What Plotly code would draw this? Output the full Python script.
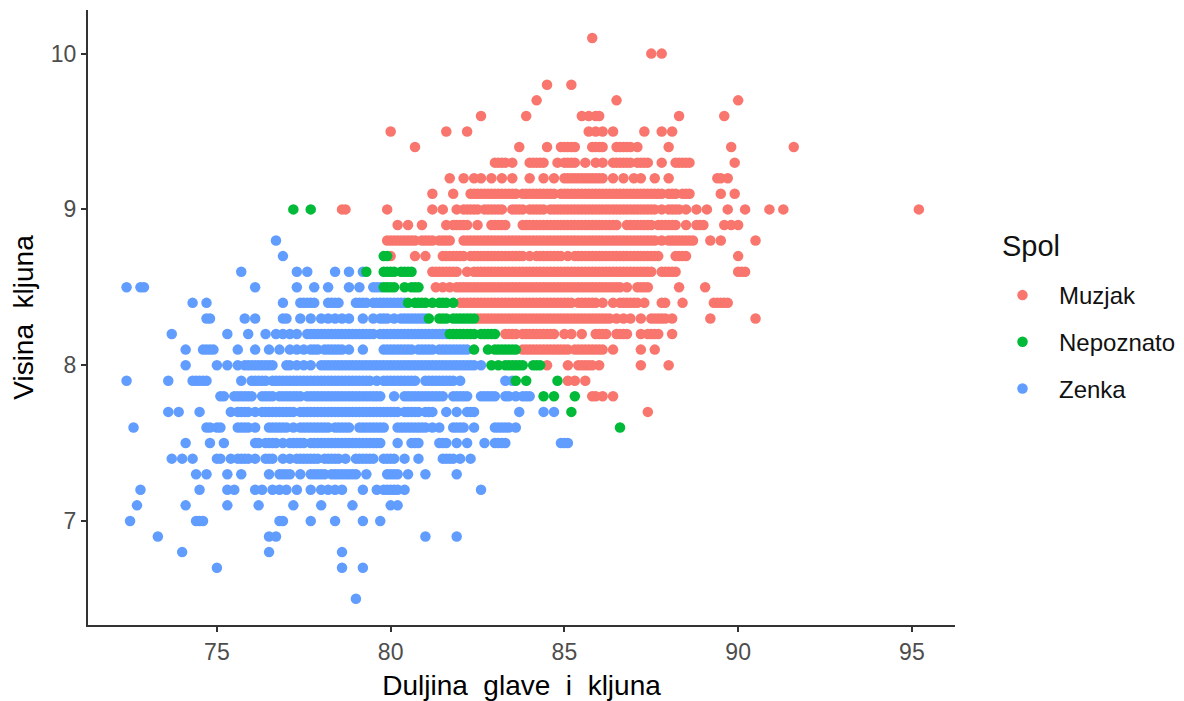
import plotly.graph_objects as go

title_x = "Duljina\u00a0 glave\u00a0 i\u00a0 kljuna"
title_y = "Visina\u00a0 kljuna"
legend_title = "Spol"
x_ticks = [75, 80, 85, 90, 95]
y_ticks = [7, 8, 9, 10]

muzjak_heights = [10.1, 10.0, 9.8, 9.7, 9.6, 9.5, 9.4, 9.3, 9.2, 9.1, 9.0, 8.9, 8.8, 8.7, 8.6, 8.5, 8.4, 8.3, 8.2, 8.1, 8.0, 7.9, 7.8, 7.7]
muzjak_rows = [
    [85.8],
    [87.5, 87.8],
    [84.5, 85.2],
    [84.2, 86.5, 90.0],
    [82.6, 83.9, 85.5, 85.7, 85.9, 86.0, 88.3, 89.6],
    [80.0, 81.6, 82.2, 85.7, 85.9, 86.1, 86.4, 87.3, 87.8, 88.1],
    [80.7, 83.7, 84.5, 84.9, 85.0, 85.1, 85.2, 85.3, 85.8, 85.9, 86.0, 86.1, 86.5, 86.6, 86.7, 86.8, 86.9, 87.1, 88.0, 89.8, 91.6],
    [83.0, 83.1, 83.2, 83.3, 83.5, 84.0, 84.1, 84.2, 84.3, 84.4, 84.8, 85.0, 85.1, 85.2, 85.3, 85.6, 85.9, 86.1, 86.4, 86.5, 86.6, 86.7, 86.8, 86.9, 87.1, 87.2, 87.3, 87.4, 87.8, 88.2, 88.3, 88.4, 88.5, 88.6, 89.9],
    [81.7, 82.1, 82.4, 82.6, 82.9, 83.2, 83.5, 84.0, 84.4, 84.7, 85.0, 85.1, 85.2, 85.3, 85.4, 85.5, 85.6, 85.7, 85.8, 85.9, 86.0, 86.1, 86.4, 86.7, 87.0, 87.2, 87.6, 88.0, 89.4, 89.5, 89.7],
    [81.2, 81.8, 82.3, 82.4, 82.5, 82.6, 82.7, 82.8, 82.9, 83.0, 83.1, 83.2, 83.3, 83.4, 83.5, 83.6, 83.8, 83.9, 84.0, 84.1, 84.2, 84.3, 84.4, 84.5, 84.6, 84.7, 84.9, 85.0, 85.1, 85.2, 85.3, 85.4, 85.5, 85.6, 85.7, 85.8, 85.9, 86.0, 86.1, 86.2, 86.3, 86.4, 86.5, 86.6, 86.7, 86.8, 86.9, 87.0, 87.1, 87.2, 87.3, 87.4, 87.5, 87.6, 87.7, 87.8, 88.0, 88.1, 88.2, 88.4, 88.5, 88.6, 89.5, 89.9],
    [78.6, 78.7, 79.9, 81.2, 81.5, 81.9, 82.1, 82.2, 82.3, 82.4, 82.5, 82.7, 82.8, 82.9, 83.0, 83.1, 83.2, 83.5, 83.6, 83.7, 83.8, 84.0, 84.1, 84.2, 84.3, 84.4, 84.6, 84.7, 84.8, 84.9, 85.0, 85.1, 85.2, 85.3, 85.4, 85.5, 85.6, 85.7, 85.8, 85.9, 86.0, 86.1, 86.2, 86.3, 86.4, 86.5, 86.6, 86.7, 86.8, 86.9, 87.0, 87.1, 87.2, 87.3, 87.4, 87.5, 87.6, 87.8, 88.0, 88.1, 88.2, 88.3, 88.5, 88.8, 89.1, 89.7, 90.2, 90.9, 91.3, 95.2],
    [80.2, 80.5, 80.9, 81.6, 81.8, 81.9, 82.0, 82.1, 82.2, 82.5, 82.9, 83.0, 83.1, 83.2, 83.3, 83.8, 83.9, 84.0, 84.1, 84.2, 84.3, 84.4, 84.5, 84.6, 84.7, 84.8, 84.9, 85.0, 85.1, 85.2, 85.3, 85.4, 85.5, 85.6, 85.7, 85.8, 85.9, 86.0, 86.1, 86.2, 86.3, 86.4, 86.5, 86.8, 86.9, 87.0, 87.1, 87.2, 87.3, 87.4, 87.5, 87.7, 87.8, 87.9, 88.0, 88.1, 88.2, 88.5, 88.8, 88.9, 89.0, 89.6, 89.8, 90.0],
    [79.9, 80.0, 80.1, 80.2, 80.3, 80.4, 80.5, 80.6, 80.7, 80.9, 81.0, 81.1, 81.2, 81.4, 81.5, 81.6, 81.7, 82.1, 82.2, 82.3, 82.4, 82.5, 82.6, 82.7, 82.8, 82.9, 83.0, 83.1, 83.2, 83.3, 83.4, 83.5, 83.6, 83.7, 83.8, 83.9, 84.0, 84.1, 84.2, 84.3, 84.4, 84.5, 84.6, 84.7, 84.8, 84.9, 85.0, 85.1, 85.2, 85.3, 85.4, 85.5, 85.6, 85.7, 85.8, 85.9, 86.0, 86.1, 86.2, 86.3, 86.4, 86.5, 86.6, 86.7, 86.8, 86.9, 87.0, 87.1, 87.2, 87.3, 87.4, 87.5, 87.6, 87.8, 88.0, 88.1, 88.2, 88.3, 88.4, 88.5, 88.6, 88.7, 89.2, 89.5, 90.5],
    [80.0, 80.7, 81.0, 81.5, 81.6, 81.7, 81.8, 81.9, 82.0, 82.1, 82.3, 82.4, 82.5, 82.6, 82.7, 82.8, 82.9, 83.0, 83.1, 83.2, 83.3, 83.4, 83.5, 83.6, 83.7, 83.8, 84.0, 84.2, 84.3, 84.4, 84.5, 84.6, 84.7, 84.8, 84.9, 85.1, 85.3, 85.4, 85.5, 85.6, 85.7, 85.8, 85.9, 86.0, 86.1, 86.2, 86.3, 86.4, 86.5, 86.6, 86.7, 86.8, 86.9, 87.0, 87.1, 87.2, 87.3, 87.4, 87.5, 87.6, 87.7, 88.2, 88.3, 88.4, 88.5, 90.0],
    [81.2, 81.3, 81.4, 81.5, 81.6, 81.7, 81.8, 81.9, 82.2, 82.4, 82.5, 82.6, 82.7, 82.8, 82.9, 83.0, 83.1, 83.2, 83.3, 83.4, 83.5, 83.6, 83.7, 83.8, 83.9, 84.0, 84.1, 84.2, 84.3, 84.4, 84.5, 84.6, 84.7, 84.8, 84.9, 85.0, 85.1, 85.2, 85.3, 85.4, 85.5, 85.6, 85.7, 85.8, 85.9, 86.0, 86.1, 86.2, 86.3, 86.4, 86.5, 86.6, 86.7, 86.8, 86.9, 87.0, 87.1, 87.2, 87.3, 87.4, 87.5, 87.8, 87.9, 88.0, 88.1, 88.2, 90.0, 90.1, 90.2],
    [81.3, 81.5, 81.7, 81.9, 82.0, 82.1, 82.2, 82.3, 82.4, 82.5, 82.6, 82.7, 82.8, 82.9, 83.0, 83.1, 83.2, 83.3, 83.4, 83.5, 83.6, 83.7, 83.8, 83.9, 84.0, 84.1, 84.2, 84.3, 84.4, 84.5, 84.6, 84.7, 84.8, 84.9, 85.0, 85.1, 85.2, 85.3, 85.4, 85.5, 85.6, 85.7, 85.8, 85.9, 86.0, 86.1, 86.2, 86.3, 86.4, 86.5, 86.6, 86.8, 87.1, 87.2, 87.3, 87.4, 88.3, 89.05],
    [82.0, 82.1, 82.2, 82.3, 82.4, 82.5, 82.6, 82.7, 82.8, 82.9, 83.0, 83.1, 83.2, 83.3, 83.4, 83.5, 83.6, 83.7, 83.8, 83.9, 84.0, 84.1, 84.2, 84.3, 84.4, 84.5, 84.6, 84.7, 84.8, 84.9, 85.0, 85.1, 85.2, 85.4, 85.5, 85.6, 85.7, 85.8, 85.9, 86.1, 86.4, 86.6, 86.7, 86.8, 86.9, 87.0, 87.1, 87.3, 87.8, 87.9, 88.4, 89.3, 89.4, 89.5, 89.6, 89.7],
    [82.5, 82.6, 82.7, 82.8, 82.9, 83.0, 83.1, 83.2, 83.3, 83.4, 83.5, 83.6, 83.7, 83.8, 83.9, 84.0, 84.1, 84.2, 84.3, 84.4, 84.5, 84.6, 84.7, 84.8, 84.9, 85.0, 85.1, 85.2, 85.3, 85.4, 85.5, 85.6, 85.7, 85.8, 85.9, 86.0, 86.1, 86.2, 86.3, 86.5, 86.7, 86.9, 87.2, 87.5, 87.6, 87.7, 87.8, 87.9, 88.1, 89.2, 90.5],
    [83.3, 83.4, 83.5, 83.6, 83.8, 83.9, 84.0, 84.1, 84.2, 84.3, 84.4, 84.5, 84.6, 84.7, 85.0, 85.2, 85.5, 85.9, 86.0, 86.1, 86.2, 86.5, 86.6, 86.7, 86.8, 87.2, 87.4, 87.5, 87.6, 87.7, 88.1],
    [83.8, 83.9, 84.0, 84.1, 84.2, 84.3, 84.4, 84.5, 84.6, 84.7, 84.8, 84.9, 85.0, 85.1, 85.3, 85.4, 85.5, 85.6, 85.7, 85.8, 85.9, 86.0, 86.1, 86.4, 87.2, 87.6],
    [84.5, 85.1, 85.4, 85.5, 85.6, 85.7, 85.8, 86.0, 87.2, 88.0],
    [85.1, 85.3, 85.6],
    [85.8, 85.9, 86.1, 86.4],
    [87.4],
]

nepoznato_heights = [9.0, 8.7, 8.6, 8.5, 8.4, 8.3, 8.2, 8.1, 8.0, 7.9, 7.8, 7.7, 7.6]
nepoznato_rows = [
    [77.2, 77.7],
    [79.8, 79.9],
    [79.3, 79.8, 79.9, 80.0, 80.1, 80.3, 80.4, 80.5, 80.6],
    [79.8, 79.9, 80.0, 80.1, 80.4, 80.6, 80.7, 80.8],
    [80.5, 80.7, 80.8, 80.9, 81.0, 81.2, 81.4, 81.5, 81.6, 81.8],
    [81.1, 81.4, 81.5, 81.6, 81.8, 81.9, 82.0, 82.1, 82.2, 82.3, 82.4],
    [81.7, 81.8, 81.9, 82.0, 82.1, 82.2, 82.3, 82.4, 82.6, 82.7, 82.8, 82.9, 83.0],
    [82.4, 82.8, 83.0, 83.1, 83.2, 83.3, 83.4, 83.5, 83.6],
    [82.9, 83.1, 83.3, 83.4, 83.5, 83.6, 83.7, 83.8, 84.1, 84.2, 84.3],
    [83.6, 83.9, 84.8],
    [84.4, 84.7, 85.3],
    [85.2],
    [86.6],
]

zenka_heights = [8.8, 8.7, 8.6, 8.5, 8.4, 8.3, 8.2, 8.1, 8.0, 7.9, 7.8, 7.7, 7.6, 7.5, 7.4, 7.3, 7.2, 7.1, 7.0, 6.9, 6.8, 6.7, 6.5]
zenka_rows = [
    [76.7],
    [76.9],
    [75.7, 77.3, 77.6, 78.4, 78.8, 79.2],
    [72.4, 72.8, 72.9, 76.1, 77.3, 77.8, 78.2, 78.8, 79.1, 79.5, 79.6, 79.7],
    [74.3, 74.7, 76.9, 77.4, 77.5, 77.6, 77.7, 77.8, 78.2, 78.3, 78.4, 78.5, 79.0, 79.1, 79.2, 79.3, 79.5, 79.6, 79.7, 79.8, 79.9, 80.0, 80.1, 80.2, 80.3, 80.4],
    [74.7, 74.8, 75.8, 76.1, 76.9, 77.0, 77.4, 77.7, 78.0, 78.2, 78.4, 78.6, 78.8, 79.2, 79.5, 79.7, 79.8, 79.9, 80.1, 80.3, 80.4, 80.5, 80.6, 80.7, 80.8, 80.9, 81.0],
    [73.7, 75.3, 75.9, 76.4, 76.7, 76.9, 77.1, 77.3, 77.6, 77.7, 77.8, 77.9, 78.0, 78.1, 78.2, 78.3, 78.4, 78.5, 78.6, 78.7, 78.8, 78.9, 79.0, 79.1, 79.2, 79.3, 79.4, 79.5, 79.7, 79.8, 79.9, 80.0, 80.1, 80.2, 80.3, 80.4, 80.5, 80.6, 80.7, 80.8, 80.9, 81.0, 81.1, 81.2, 81.3, 81.4, 81.5, 81.6],
    [74.1, 74.6, 74.7, 74.8, 74.9, 75.6, 76.1, 76.5, 76.8, 77.1, 77.3, 77.5, 77.7, 77.8, 77.9, 78.1, 78.2, 78.3, 78.4, 78.5, 78.6, 78.8, 79.2, 79.8, 79.9, 80.0, 80.1, 80.2, 80.3, 80.4, 80.5, 80.6, 80.8, 80.9, 81.0, 81.1, 81.2, 81.4, 81.5, 81.6, 81.7, 81.8, 81.9, 82.0, 82.1, 82.2],
    [74.1, 75.0, 75.3, 75.6, 75.8, 75.9, 76.0, 76.1, 76.2, 76.3, 76.4, 76.5, 76.6, 77.0, 77.1, 77.3, 77.5, 77.7, 78.0, 78.1, 78.2, 78.3, 78.4, 78.5, 78.6, 78.7, 78.8, 78.9, 79.0, 79.1, 79.2, 79.3, 79.4, 79.5, 79.6, 79.7, 79.8, 79.9, 80.0, 80.1, 80.2, 80.3, 80.4, 80.5, 80.6, 80.7, 80.8, 80.9, 81.0, 81.1, 81.2, 81.3, 81.4, 81.5, 81.6, 81.7, 81.8, 81.9, 82.0, 82.1, 82.2, 82.3, 82.4, 82.6],
    [72.4, 73.6, 74.3, 74.4, 74.5, 74.6, 74.7, 75.7, 76.0, 76.1, 76.2, 76.3, 76.4, 76.6, 76.7, 76.8, 76.9, 77.0, 77.1, 77.2, 77.3, 77.4, 77.5, 77.6, 77.7, 77.8, 77.9, 78.0, 78.1, 78.2, 78.3, 78.4, 78.5, 78.6, 78.7, 78.8, 78.9, 79.0, 79.1, 79.2, 79.3, 79.4, 79.6, 79.8, 79.9, 80.0, 80.1, 80.2, 80.3, 80.4, 80.5, 80.6, 80.7, 81.0, 81.1, 81.2, 81.3, 81.4, 81.5, 81.6, 81.7, 81.8, 82.0, 83.3, 83.5],
    [75.1, 75.2, 75.5, 75.6, 75.7, 75.8, 75.9, 76.0, 76.3, 76.4, 76.5, 76.6, 76.8, 76.9, 77.0, 77.1, 77.2, 77.3, 77.4, 77.6, 77.7, 77.8, 77.9, 78.0, 78.1, 78.2, 78.3, 78.4, 78.5, 78.6, 78.7, 78.8, 78.9, 79.0, 79.1, 79.2, 79.3, 79.4, 79.5, 79.6, 79.7, 80.1, 80.4, 80.5, 80.6, 80.7, 80.8, 80.9, 81.0, 81.1, 81.2, 81.3, 81.4, 81.5, 81.8, 81.9, 82.0, 82.1, 82.2, 82.6, 82.7, 82.8, 82.9, 83.0, 83.3, 83.4, 83.6, 83.8, 83.9, 84.0],
    [73.6, 73.9, 74.5, 75.4, 75.6, 75.7, 75.8, 75.9, 76.1, 76.3, 76.4, 76.5, 76.6, 76.7, 76.8, 76.9, 77.0, 77.1, 77.2, 77.4, 77.5, 77.6, 77.7, 77.8, 77.9, 78.0, 78.1, 78.2, 78.3, 78.4, 78.5, 78.6, 78.7, 78.8, 78.9, 79.0, 79.1, 79.2, 79.3, 79.4, 79.5, 79.6, 79.7, 79.8, 79.9, 80.0, 80.1, 80.2, 80.4, 80.5, 80.6, 80.7, 80.8, 81.0, 81.1, 81.2, 81.6, 81.9, 82.2, 82.3, 82.4, 83.7, 84.4, 84.7],
    [72.6, 74.7, 74.8, 75.0, 75.1, 75.6, 75.7, 75.8, 75.9, 76.1, 76.5, 76.6, 76.7, 76.8, 76.9, 77.0, 77.2, 77.4, 77.5, 77.6, 77.7, 77.8, 77.9, 78.0, 78.1, 78.2, 78.4, 78.5, 78.6, 78.7, 78.8, 79.1, 79.2, 79.3, 79.4, 79.5, 79.6, 79.7, 79.8, 80.2, 80.3, 80.4, 80.5, 80.6, 80.7, 80.8, 80.9, 81.0, 81.2, 81.4, 81.8, 81.9, 82.0, 82.1, 82.4, 83.0, 83.1, 83.2, 83.3, 83.4, 83.6],
    [74.1, 74.8, 75.2, 76.1, 76.2, 76.4, 76.5, 76.6, 76.7, 76.9, 77.1, 77.2, 77.3, 77.4, 77.5, 77.7, 77.8, 77.9, 78.0, 78.1, 78.2, 78.3, 78.4, 78.5, 78.6, 78.7, 78.8, 78.9, 79.0, 79.1, 79.2, 79.3, 79.4, 79.5, 79.6, 79.7, 80.2, 80.6, 80.7, 80.8, 81.4, 81.5, 81.6, 81.9, 82.2, 82.7, 83.0, 83.1, 83.2, 83.3, 84.9, 85.0, 85.1],
    [73.7, 74.0, 74.3, 75.0, 75.1, 75.4, 75.6, 75.7, 75.8, 75.9, 76.1, 76.4, 76.5, 76.6, 76.9, 77.1, 77.3, 77.4, 77.5, 77.6, 77.7, 77.8, 77.9, 78.1, 78.2, 78.3, 78.4, 78.5, 78.7, 79.0, 79.1, 79.2, 79.3, 79.4, 79.5, 79.8, 79.9, 80.0, 80.1, 80.4, 80.8, 81.5, 81.6, 81.7, 81.8, 82.0, 82.3],
    [74.4, 74.7, 75.3, 75.7, 76.5, 76.8, 76.9, 77.0, 77.1, 77.4, 77.7, 77.8, 77.9, 78.0, 78.1, 78.3, 78.4, 78.5, 78.6, 78.7, 78.8, 78.9, 79.0, 79.3, 79.9, 80.0, 80.1, 80.2, 80.5, 81.0, 81.9],
    [72.8, 74.5, 75.3, 75.5, 76.1, 76.3, 76.6, 76.8, 77.0, 77.3, 77.7, 78.0, 78.2, 78.4, 78.6, 79.2, 79.6, 79.8, 79.9, 80.0, 80.1, 80.2, 80.4, 82.6],
    [72.7, 74.1, 75.3, 76.2, 77.2, 78.0, 78.9, 80.0, 80.2],
    [72.5, 74.4, 74.5, 74.6, 76.8, 76.9, 77.7, 78.4, 79.2, 79.7],
    [73.3, 76.5, 76.7, 81.0, 81.9],
    [74.0, 76.5, 78.6],
    [75.0, 78.6, 79.2],
    [79.0],
]


def flatten(heights, rows):
    xs, ys = [], []
    for h, row in zip(heights, rows):
        xs.extend(row)
        ys.extend([h] * len(row))
    return xs, ys


fig = go.Figure()
for name, heights, rows, color, rank in [
    ("Muzjak", muzjak_heights, muzjak_rows, "#F8766D", 1),
    ("Zenka", zenka_heights, zenka_rows, "#619CFF", 3),
    ("Nepoznato", nepoznato_heights, nepoznato_rows, "#00BA38", 2),
]:
    xs, ys = flatten(heights, rows)
    fig.add_trace(go.Scatter(
        x=xs, y=ys, mode="markers", name=name, legendrank=rank, legendgroup=name,
        marker=dict(color=color, size=10.5, line=dict(width=0)),
    ))

axis_common = dict(
    showgrid=False, zeroline=False, showline=True, linecolor="#333333", linewidth=2,
    ticks="outside", ticklen=5, tickwidth=1.5, tickcolor="#333333", automargin=False,
    tickfont=dict(family="Liberation Sans, Arial, sans-serif", size=23, color="#4d4d4d"),
)
fig.update_layout(
    width=1184, height=701, autosize=False,
    margin=dict(l=88, r=229, t=10, b=76),
    paper_bgcolor="white", plot_bgcolor="white",
    font=dict(family="Liberation Sans, Arial, sans-serif", color="#000000"),
    xaxis=dict(range=[71.29, 96.24], tickvals=x_ticks, ticktext=[str(t) for t in x_ticks],
               title=dict(text=title_x, font=dict(size=28), standoff=12), **axis_common),
    yaxis=dict(range=[6.332, 10.28], tickvals=y_ticks, ticktext=[str(t) for t in y_ticks],
               title=dict(text=title_y, font=dict(size=28), standoff=9), **axis_common),
    legend=dict(
        x=986 / 1184, xref="container", y=1 - 273 / 701, yref="container", yanchor="top", xanchor="left",
        font=dict(size=24, color="#111111"),
        tracegroupgap=12.5, itemwidth=63, itemsizing="trace",
        bgcolor="rgba(0,0,0,0)",
    ),
    annotations=[dict(
        text=legend_title, showarrow=False, xref="paper", yref="paper",
        x=(1000 - 88) / (1184 - 88 - 229), y=(625 - 246) / (701 - 10 - 76),
        xanchor="left", yanchor="middle", font=dict(size=29, color="#111111"),
    )],
    showlegend=True,
)
fig.write_html("out.html", config={"displayModeBar": False},
               post_script="document.body.style.margin='0';document.body.style.overflow='hidden';")
